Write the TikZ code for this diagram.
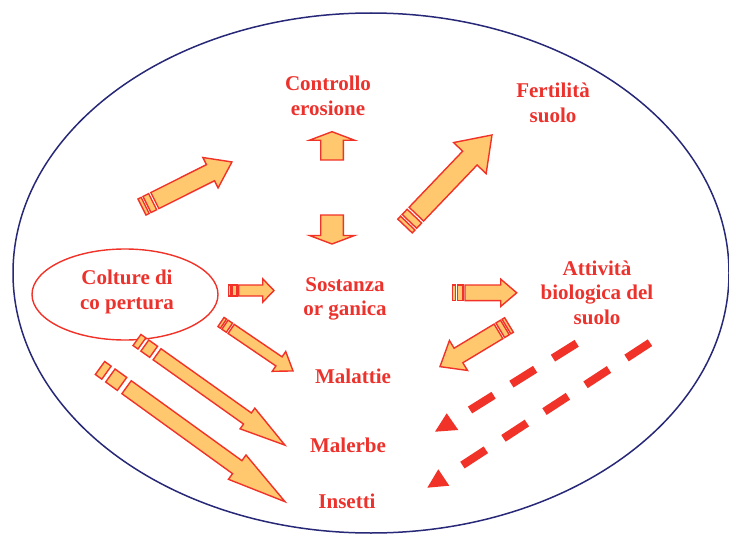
\documentclass[tikz,border=0pt]{standalone}
\usepackage{fontspec}
\setmainfont{Liberation Serif}
\usetikzlibrary{shapes.geometric}
\definecolor{txtred}{RGB}{236,50,45}
\definecolor{arrfill}{RGB}{255,200,110}
\definecolor{arrline}{RGB}{240,50,40}
\definecolor{navy}{RGB}{40,40,120}
\tikzset{
  lbl/.style={text=txtred, font=\bfseries\fontsize{21}{24.5}\selectfont, align=center, inner sep=0pt},
  arr/.style={draw=arrline, fill=arrfill, line width=1.4pt, line join=miter},
  dline/.style={draw=arrline, line width=8pt, dash pattern=on 28pt off 21pt},
  dtip/.style={fill=arrline, draw=none},
}
% #1 x, #2 y (tail), #3 angle, #4 length, #5 body half width, #6 head half width, #7 head length, #8 stripe unit
\newcommand\stripearrow[8]{%
  \begin{scope}[shift={(#1,#2)}, rotate=#3]
    \ifdim #8pt>0pt
      \draw[arr] (0,-#5) rectangle (#8,#5);
      \draw[arr] ({1.6*#8},-#5) rectangle ({3.4*#8},#5);
    \fi
    \draw[arr] ({4.1*#8},-#5) -- ({#4-#7},-#5) -- ({#4-#7},-#6) -- (#4,0)
      -- ({#4-#7},#6) -- ({#4-#7},#5) -- ({4.1*#8},#5) -- cycle;
  \end{scope}}
\begin{document}
\begin{tikzpicture}[x=1pt,y=-1pt]
\useasboundingbox (0,0) rectangle (729,535);
% big ellipse
\draw[navy, line width=1.5pt] (371,273) ellipse [x radius=358, y radius=260];
% small ellipse
\node[draw=arrline, line width=1.4pt, ellipse, minimum width=186pt, minimum height=91pt] (ce) at (125,294.5) {};
\node[lbl] (colt) at (127,292) {Colture di\\co pertura};
% labels
\node[lbl] (ctrl) at (328,96) {Controllo\\erosione};
\node[lbl] (fert) at (553,103) {Fertilità\\suolo};
\node[lbl] (sost) at (345,299) {Sostanza\\or ganica};
\node[lbl] (att) at (597,292.5) {Attività\\biologica del\\suolo};
\node[lbl] (mal) at (353,376) {Malattie};
\node[lbl] (malerbe) at (348,445) {Malerbe};
\node[lbl] (ins) at (347,501) {Insetti};
% block arrows
\stripearrow{142}{207}{26.6}{100.6}{9}{17}{24}{3.5}
\stripearrow{405}{226}{46.3}{125.9}{10}{22.5}{32}{4}
\stripearrow{332}{160}{90}{28.3}{11.3}{22.5}{8.5}{0}
\stripearrow{332}{215}{-90}{29}{11.3}{22.5}{8.5}{0}
\stripearrow{228.3}{290.5}{0}{45.7}{5.5}{11.7}{11.3}{2.5}
\stripearrow{221}{322}{-34.2}{87.1}{5.5}{12}{17}{3}
\stripearrow{452.7}{292.8}{0}{64}{7.8}{13.7}{16}{3}
\stripearrow{509}{325}{211.1}{80.6}{8.5}{17.5}{21.6}{3}
\stripearrow{137}{340}{-35.4}{181.5}{6.8}{12.7}{46}{6}
\stripearrow{100}{368}{-35.85}{228.3}{8}{15}{59}{8}
% dashed arrows
\coordinate (d1s) at (576.7,343.3);
\coordinate (d1e) at (470,410);
\coordinate (d2s) at (650,342.7);
\coordinate (d2e) at (460,466.7);
\draw[dline] (d1s) -- (d1e);
\draw[dline] (d2s) -- (d2e);
\fill[dtip] (435,431.7) -- (446.7,413.3) -- (458.3,430) -- cycle;
\fill[dtip] (427.3,487.7) -- (438.3,469.3) -- (449.3,485.7) -- cycle;
\end{tikzpicture}
\end{document}
